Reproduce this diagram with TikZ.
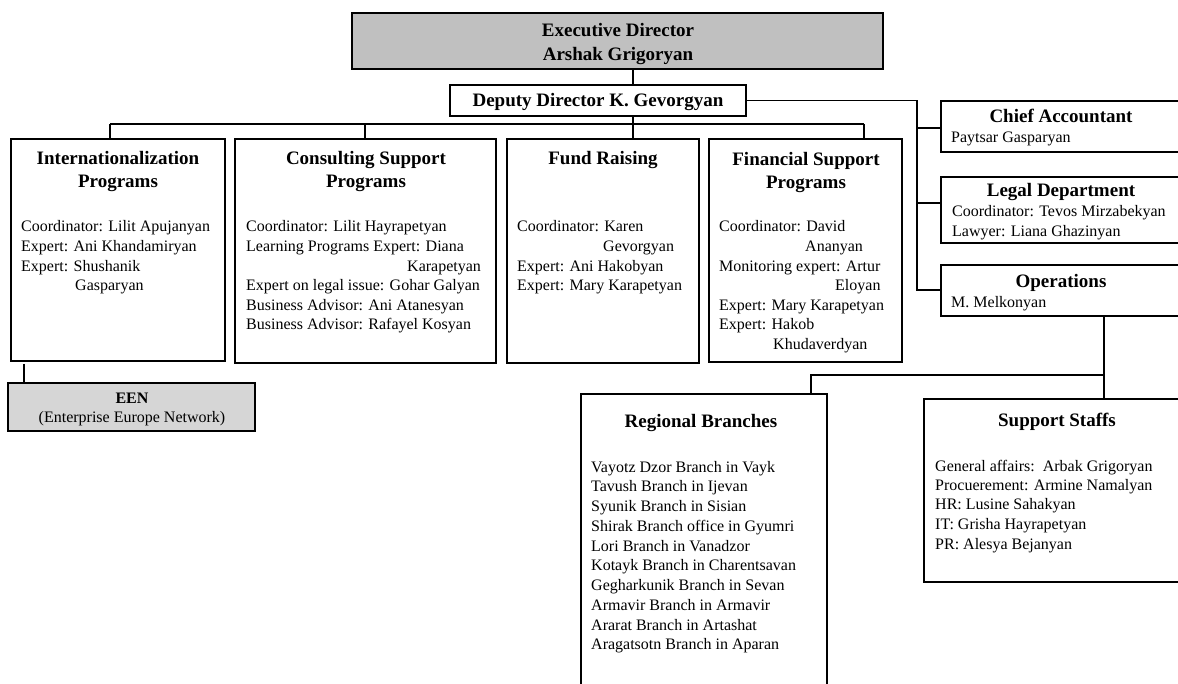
\documentclass[tikz,border=0pt]{standalone}
\usepackage{fontspec}
\setmainfont{Liberation Serif}
\newcommand\bodyfont{\fontsize{16}{19.6}\selectfont}
\newcommand\headfont{\bfseries\fontsize{19}{23}\selectfont}
\newcommand\llines[1]{\begin{tabular}[t]{@{}l@{}}#1\end{tabular}}
\newcommand\clines[1]{\begin{tabular}[t]{@{}c@{}}#1\end{tabular}}
\definecolor{execgray}{HTML}{C0C0C0}
\definecolor{eengray}{HTML}{D6D6D6}
\begin{document}
\begin{tikzpicture}[x=1pt,y=-1pt,
  orgbox/.style={draw=black, line width=1.2pt, fill=white, inner sep=0pt, outer sep=0pt, anchor=north west},
  link/.style={draw=black, line width=1.9pt},
  head/.style={anchor=base, inner sep=0pt, font=\headfont},
  body/.style={anchor=base west, inner sep=0pt, font=\bodyfont}]
\useasboundingbox (0,0) rectangle (1178,684);
\clip (0,0) rectangle (1178,684);

% boxes
\node[orgbox, fill=execgray, minimum width={883-352}, minimum height={69-13}] (exec) at (352,13) {};
\node[orgbox, minimum width={746-450}, minimum height={116-85}] (deputy) at (450,85) {};
\node[orgbox, minimum width={225-11}, minimum height={361-139}] (intl) at (11,139) {};
\node[orgbox, minimum width={496-235}, minimum height={363-139}] (cons) at (235,139) {};
\node[orgbox, minimum width={699-507}, minimum height={363-139}] (fund) at (507,139) {};
\node[orgbox, minimum width={902-709}, minimum height={362-139}] (fin) at (709,139) {};
\node[orgbox, minimum width={1181-941}, minimum height={152-101}] (chief) at (941,101) {};
\node[orgbox, minimum width={1181-941}, minimum height={243-177}] (legal) at (941,177) {};
\node[orgbox, minimum width={1181-941}, minimum height={316-265}] (ops) at (941,265) {};
\node[orgbox, fill=eengray, minimum width={255-8}, minimum height={431-383}] (een) at (8,383) {};
\node[orgbox, minimum width={827-581}, minimum height={720-394}] (regional) at (581,394) {};
\node[orgbox, minimum width={1190-924}, minimum height={582-399}] (support) at (924,399) {};

% junction points of the connectors
\coordinate (spine) at (633,124);
\coordinate (d1) at (110,124);
\coordinate (d2) at (365,124);
\coordinate (d4) at (864,124);
\coordinate (r) at (917,101);
\coordinate (jA) at (917,128);
\coordinate (jB) at (917,203);
\coordinate (jC) at (917,290);
\coordinate (s) at (1104,375);
\coordinate (t) at (811,375);
\coordinate (e) at (24,364);

% connectors
\draw[link] (exec.south -| spine) -- (deputy.north -| spine);
\draw[link] (deputy.south -| spine) -- (fund.north -| spine);
\draw[link] (d1) -- (d4);
\draw[link] (d1) -- (intl.north -| d1);
\draw[link] (d2) -- (cons.north -| d2);
\draw[link] (d4) -- (fin.north -| d4);
\draw[link] (deputy.east) -- (deputy.east -| r) -- (jC) -- (ops.west |- jC);
\draw[link] (jA) -- (chief.west |- jA);
\draw[link] (jB) -- (legal.west |- jB);
\draw[link] (ops.south -| s) -- (support.north -| s);
\draw[link] (s) -- (t) -- (regional.north -| t);
\draw[link] (e) -- (een.north -| e);

% texts
\node[head, font=\bfseries\fontsize{19}{24}\selectfont] (exec-t) at (618,37) {\clines{Executive Director\\Arshak Grigoryan}};
\node[head] (deputy-t) at (598,107) {Deputy Director K. Gevorgyan};

\node[head] (intl-h) at (118,165) {\clines{Internationalization\\Programs}};
\node[body] (intl-b) at (21,232) {\llines{Coordinator: Lilit Apujanyan\\
  Expert: Ani Khandamiryan\\
  Expert: Shushanik\\
  \hspace*{54pt}Gasparyan}};

\node[head] (cons-h) at (366,165) {\clines{Consulting Support\\Programs}};
\node[body] (cons-b) at (246,232) {\llines{Coordinator: Lilit Hayrapetyan\\
  Learning Programs Expert: Diana\\
  \hspace*{161pt}Karapetyan\\
  Expert on legal issue: Gohar Galyan\\
  Business Advisor: Ani Atanesyan\\
  Business Advisor: Rafayel Kosyan}};

\node[head] (fund-h) at (603,165) {Fund Raising};
\node[body] (fund-b) at (517,232) {\llines{Coordinator: Karen\\
  \hspace*{86pt}Gevorgyan\\
  Expert: Ani Hakobyan\\
  Expert: Mary Karapetyan}};

\node[head] (fin-h) at (806,166) {\clines{Financial Support\\Programs}};
\node[body] (fin-b) at (719,232) {\llines{Coordinator: David\\
  \hspace*{86pt}Ananyan\\
  Monitoring expert: Artur\\
  \hspace*{116pt}Eloyan\\
  Expert: Mary Karapetyan\\
  Expert: Hakob\\
  \hspace*{54pt}Khudaverdyan}};

\node[head] (chief-h) at (1061,123) {Chief Accountant};
\node[body] (chief-b) at (951,143) {Paytsar Gasparyan};

\node[head] (legal-h) at (1061,197) {Legal Department};
\node[body] (legal-b) at (952,217) {\llines{Coordinator: Tevos Mirzabekyan\\
  Lawyer: Liana Ghazinyan}};

\node[head] (ops-h) at (1061,288) {Operations};
\node[body] (ops-b) at (951,308) {M. Melkonyan};

\node[head, font=\bfseries\fontsize{16}{20}\selectfont] (een-h) at (132,403) {EEN};
\node[anchor=base, inner sep=0pt, font=\bodyfont] (een-b) at (132,423) {(Enterprise Europe Network)};

\node[head] (regional-h) at (701,428) {Regional Branches};
\node[body, font=\fontsize{16}{19.75}\selectfont] (regional-b) at (591,472) {\llines{Vayotz Dzor Branch in Vayk\\
  Tavush Branch in Ijevan\\
  Syunik Branch in Sisian\\
  Shirak Branch office in Gyumri\\
  Lori Branch in Vanadzor\\
  Kotayk Branch in Charentsavan\\
  Gegharkunik Branch in Sevan\\
  Armavir Branch in Armavir\\
  Ararat Branch in Artashat\\
  Aragatsotn Branch in Aparan}};

\node[head] (support-h) at (1057,427) {Support Staffs};
\node[body, font=\fontsize{16}{19.5}\selectfont] (support-b) at (935,471) {\llines{General affairs:\ \ Arbak Grigoryan\\
  Procuerement: Armine Namalyan\\
  HR: Lusine Sahakyan\\
  IT: Grisha Hayrapetyan\\
  PR: Alesya Bejanyan}};
\end{tikzpicture}
\end{document}
